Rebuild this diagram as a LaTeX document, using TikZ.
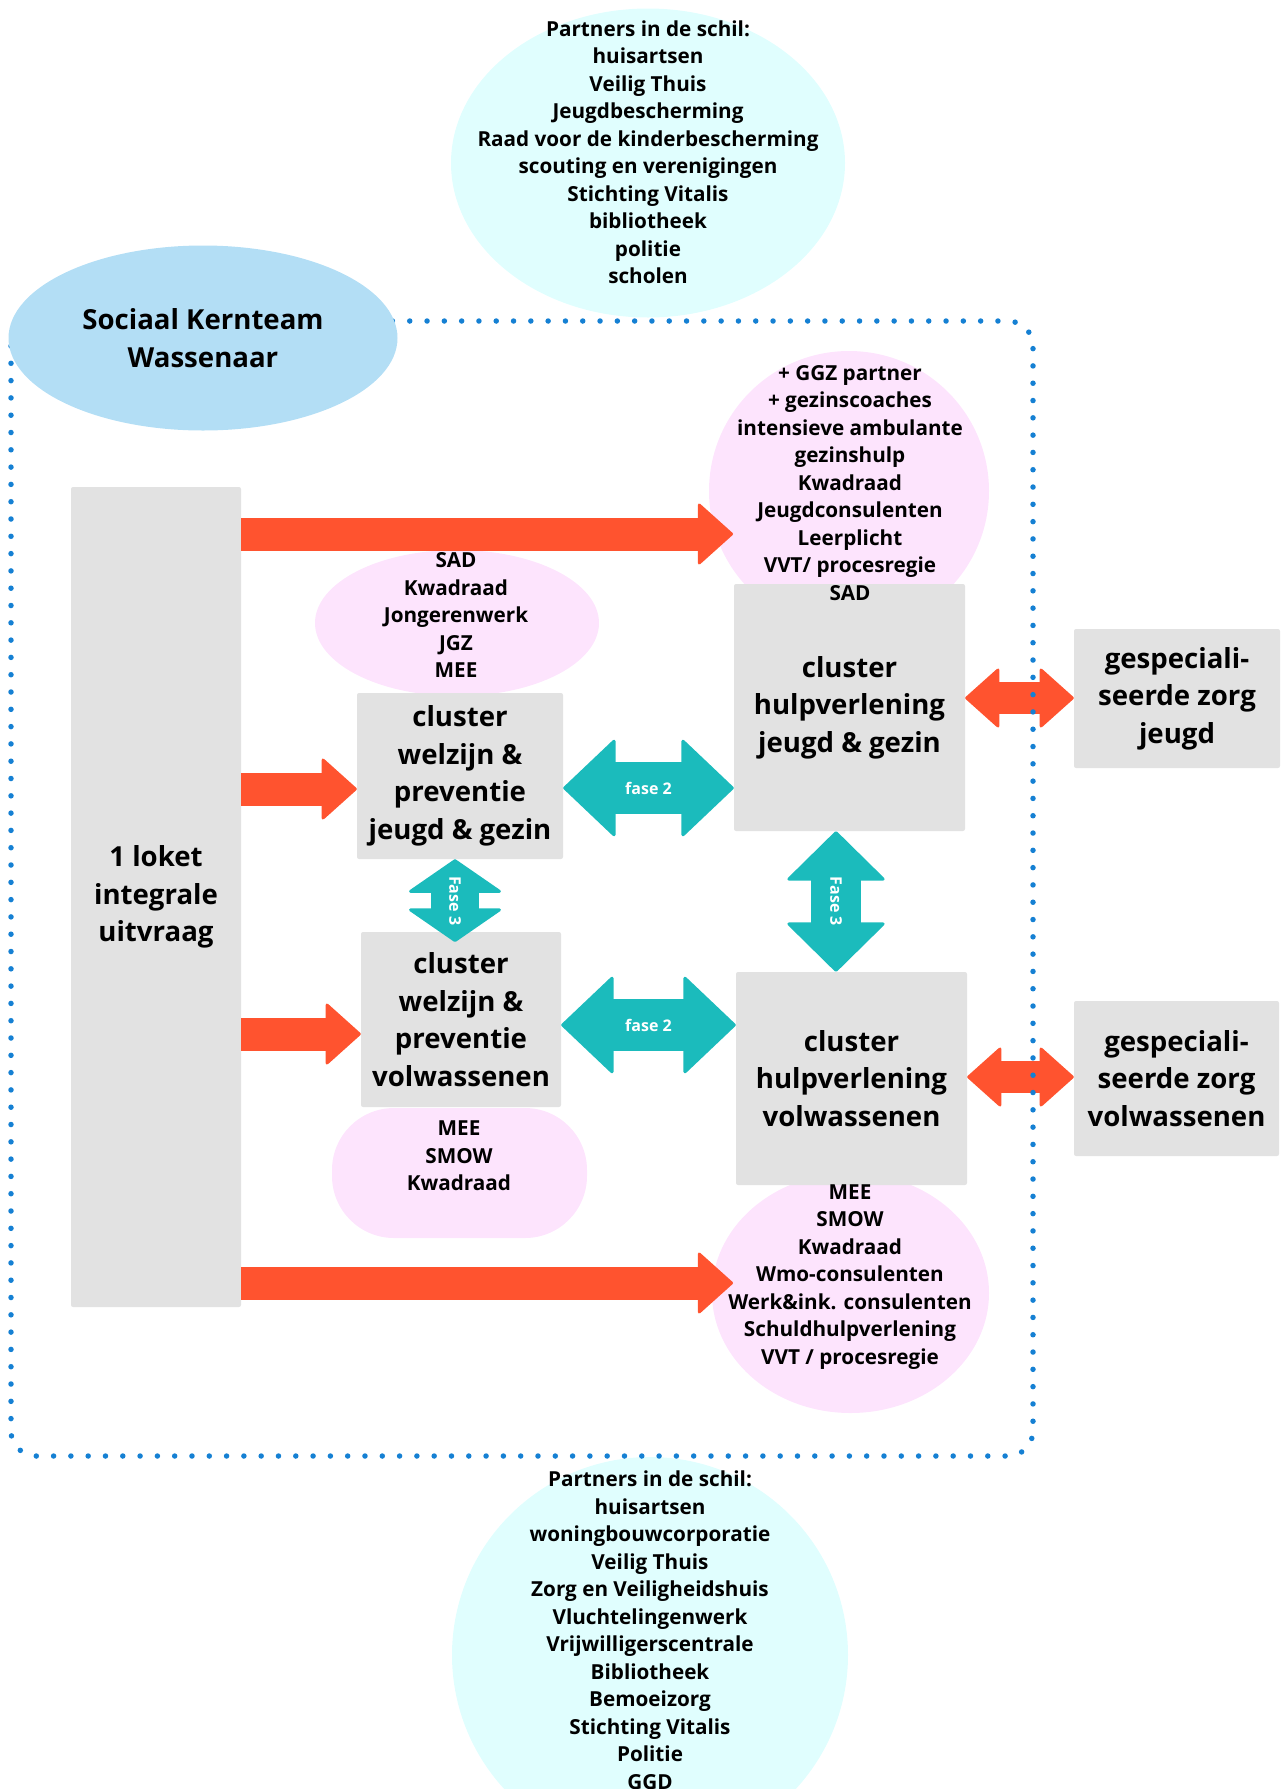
\documentclass[tikz,border=0pt]{standalone}
\usepackage{fontspec}
\setmainfont{Open Sans}
\usepackage{tikz}
\usetikzlibrary{arrows.meta, positioning, shapes.geometric}

\definecolor{kernblauw}{HTML}{B3DEF5}
\definecolor{schilcyaan}{HTML}{E0FEFE}
\definecolor{clusterroze}{HTML}{FDE4FD}
\definecolor{doosgrijs}{HTML}{E2E2E2}
\definecolor{pijloranje}{HTML}{FF532F}
\definecolor{pijlteal}{HTML}{1BBBBC}
\definecolor{stipblauw}{HTML}{1580D3}

\newcommand{\kleintxt}{\fontsize{20.7pt}{27.5pt}\selectfont\bfseries}
\newcommand{\grotetxt}{\fontsize{27.6pt}{37.5pt}\selectfont\bfseries}
\newcommand{\fasetxt}{\fontsize{16pt}{18pt}\selectfont\bfseries}

\begin{document}
\begin{tikzpicture}[x=1pt, y=-1pt,
  doos/.style={fill=doosgrijs, rounded corners=2pt, inner sep=0pt, align=center, font=\grotetxt},
  schil/.style={fill=schilcyaan, ellipse, inner sep=0pt},
  roze/.style={fill=clusterroze, inner sep=0pt},
  lijst/.style={align=center, font=\kleintxt, inner sep=0pt},
  oranje/.style={draw=pijloranje, line width=33pt, -{Triangle[length=36pt, width=64pt, line width=3pt 0 0, round]}},
  oranjedubbel/.style={draw=pijloranje, line width=32pt, {Triangle[length=35pt, width=62pt, line width=3pt 0 0, round]}-{Triangle[length=35pt, width=62pt, line width=3pt 0 0, round]}},
  teal/.style={draw=pijlteal},
  fase/.style={font=\fasetxt, text=white, inner sep=0pt}]
  \useasboundingbox (0,0) rectangle (1285,1789);

  % Partners in de schil (boven en onder)
  \node[schil, minimum width=394pt, minimum height=309pt] (schilboven) at (648,163) {};
  \node[schil, minimum width=396pt, minimum height=396pt] (schilonder) at (650,1655) {};

  % Roze achtergronden van de clusters
  \node[roze, circle, minimum size=280pt] (rozejeugd) at (849,491) {};
  \node[roze, ellipse, minimum width=284pt, minimum height=146pt] (rozewelzijn) at (457,623) {};
  \node[roze, rounded corners=62pt, minimum width=255pt, minimum height=130pt] (rozewelvol) at (459.5,1173) {};
  \node[roze, ellipse, minimum width=277pt, minimum height=240pt] (rozevol) at (850.5,1293) {};

  % Grijze blokken
  \node[doos, minimum width=170pt, minimum height=820pt] (loket) at (156,897) {1 loket\\integrale\\uitvraag};
  \node[doos, minimum width=206pt, minimum height=166pt] (welzijnjeugd) at (460,776) {cluster\\welzijn \&\\preventie\\jeugd \& gezin};
  \node[doos, minimum width=200pt, minimum height=175pt] (welzijnvol) at (461,1019.5) {cluster\\welzijn \&\\preventie\\volwassenen};
  \node[doos, minimum width=231pt, minimum height=247pt] (hulpjeugd) at (849.5,707.5) {cluster\\hulpverlening\\jeugd \& gezin};
  \node[doos, minimum width=231pt, minimum height=213pt] (hulpvol) at (851.5,1078.5) {cluster\\hulpverlening\\volwassenen};
  \node[doos, minimum width=206pt, minimum height=139pt] (zorgjeugd) at (1177,698.5) {gespeciali-\\seerde zorg\\jeugd};
  \node[doos, minimum width=205pt, minimum height=155pt] (zorgvol) at (1176.5,1078.5) {gespeciali-\\seerde zorg\\volwassenen};

  % Teksten in de cirkels
  \node[lijst] (schilbovenlijst) at (648,152) {Partners in de schil:\\huisartsen\\Veilig Thuis\\Jeugdbescherming\\Raad voor de kinderbescherming\\scouting en verenigingen\\Stichting Vitalis\\bibliotheek\\politie\\scholen};
  \node[lijst] (schilonderlijst) at (650,1630) {Partners in de schil:\\huisartsen\\woningbouwcorporatie\\Veilig Thuis\\Zorg en Veiligheidshuis\\Vluchtelingenwerk\\Vrijwilligerscentrale\\Bibliotheek\\Bemoeizorg\\Stichting Vitalis\\Politie\\GGD};
  \node[lijst] (rozejeugdlijst) at (850,483) {+ GGZ partner\\+ gezinscoaches\\intensieve ambulante\\gezinshulp\\Kwadraad\\Jeugdconsulenten\\Leerplicht\\VVT/ procesregie\\SAD};
  \node[lijst] (rozewelzijnlijst) at (456,615) {SAD\\Kwadraad\\Jongerenwerk\\JGZ\\MEE};
  \node[lijst] (rozewelvollijst) at (459,1156) {MEE\\SMOW\\Kwadraad};
  \node[lijst] (rozevollijst) at (850,1277) {MEE\\SMOW\\Kwadraad\\Wmo-consulenten\\Werk\&ink. consulenten\\Schuldhulpverlening\\VVT / procesregie};

  % Oranje pijlen vanuit het loket
  \coordinate (tipboven) at (733,534);
  \coordinate (tiponder) at (733,1283);
  \draw[oranje] (loket.east |- tipboven) -- (tipboven);
  \draw[oranje] (loket.east |- 0,789) -- (welzijnjeugd.west |- 0,789);
  \draw[oranje] (loket.east |- 0,1034) -- (welzijnvol.west |- 0,1034);
  \draw[oranje] (loket.east |- tiponder) -- (tiponder);

  % Oranje pijlen naar gespecialiseerde zorg
  \draw[oranjedubbel] (hulpjeugd.east |- 0,698) -- (zorgjeugd.west |- 0,698);
  \draw[oranjedubbel] (hulpvol.east |- 0,1077) -- (zorgvol.west |- 0,1077);

  % Fase 2 pijlen
  \draw[teal, line width=52pt, {Triangle[length=53pt, width=100pt, line width=3pt 0 0, round]}-{Triangle[length=53pt, width=100pt, line width=3pt 0 0, round]}]
    (welzijnjeugd.east |- 0,788) -- (hulpjeugd.west |- 0,788) node[fase, midway] (fase2boven) {fase 2};
  \draw[teal, line width=52pt, {Triangle[length=53pt, width=100pt, line width=3pt 0 0, round]}-{Triangle[length=53pt, width=100pt, line width=3pt 0 0, round]}]
    (welzijnvol.east |- 0,1025) -- (hulpvol.west |- 0,1025) node[fase, midway] (fase2onder) {fase 2};

  % Fase 3 pijlen
  \draw[teal, line width=48pt, {Triangle[length=34pt, width=98pt, line width=3pt 0 0, round]}-{Triangle[length=34pt, width=98pt, line width=3pt 0 0, round]}]
    (welzijnjeugd.south -| 455,0) -- (455,942) node[fase, midway, rotate=-90] (fase3links) {Fase 3};
  \draw[teal, line width=50pt, {Triangle[length=50pt, width=101pt, line width=3pt 0 0, round]}-{Triangle[length=50pt, width=101pt, line width=3pt 0 0, round]}]
    (hulpjeugd.south -| 836,0) -- (hulpvol.north -| 836,0) node[fase, midway, rotate=-90] (fase3rechts) {Fase 3};

  % Gestippelde rand van het kernteam
  \draw[stipblauw, line width=5.5pt, line cap=round, dash pattern=on 0pt off 17.3pt, rounded corners=25pt]
    (11,321) rectangle (1033,1456);

  % Sociaal Kernteam
  \node[fill=kernblauw, ellipse, inner sep=0pt, minimum width=389pt, minimum height=185pt, align=center, font=\grotetxt] (kernteam) at (203,338) {Sociaal Kernteam\\Wassenaar};
\end{tikzpicture}
\end{document}
